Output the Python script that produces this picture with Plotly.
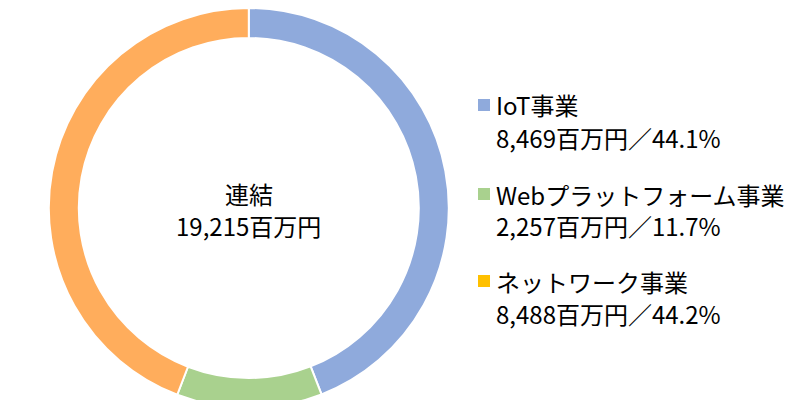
import plotly.graph_objects as go

labels = ["IoT事業", "Webプラットフォーム事業", "ネットワーク事業"]
values = [8469, 2257, 8488]
amount_text = ["8,469百万円／44.1%", "2,257百万円／11.7%", "8,488百万円／44.2%"]
slice_colors = ["#8FAADC", "#A9D18E", "#FFAD5C"]
legend_colors = ["#8FAADC", "#A9D18E", "#FFC000"]
center_lines = ["連結", "19,215百万円"]

font = "Noto Sans CJK JP"
H = 400.0
fig = go.Figure(go.Pie(
    labels=labels, values=values, hole=0.85, sort=False, direction="clockwise",
    rotation=0, marker=dict(colors=slice_colors, line=dict(color="white", width=2)),
    textinfo="none", hoverinfo="skip", showlegend=False,
    domain=dict(x=[0.051, 0.551], y=[0, 1])))

for txt, py in zip(center_lines, [185, 217]):
    fig.add_annotation(x=0.301, y=1 - py / H, xref="paper", yref="paper", text=txt,
                       xanchor="center", yanchor="middle", showarrow=False,
                       font=dict(family=font, size=24, color="#000"))

label_py = [97, 186, 273]
amt_py = [130, 217, 305]
for lab, amt, c, ly, ay in zip(labels, amount_text, legend_colors, label_py, amt_py):
    fig.add_shape(type="rect", xref="paper", yref="paper", x0=470 / 800, x1=482 / 800,
                  y0=1 - (ly + 6) / H, y1=1 - (ly - 6) / H, fillcolor=c, line_width=0)
    fig.add_annotation(x=486 / 800, y=1 - ly / H, xref="paper", yref="paper", text=lab,
                       xanchor="left", yanchor="middle", showarrow=False,
                       font=dict(family=font, size=24, color="#000"))
    fig.add_annotation(x=486 / 800, y=1 - ay / H, xref="paper", yref="paper", text=amt,
                       xanchor="left", yanchor="middle", showarrow=False,
                       font=dict(family=font, size=24, color="#000"))

fig.update_layout(width=800, height=400, margin=dict(l=0, r=0, t=0, b=0),
                  paper_bgcolor="white", plot_bgcolor="white")
fig.write_html("out.html")
